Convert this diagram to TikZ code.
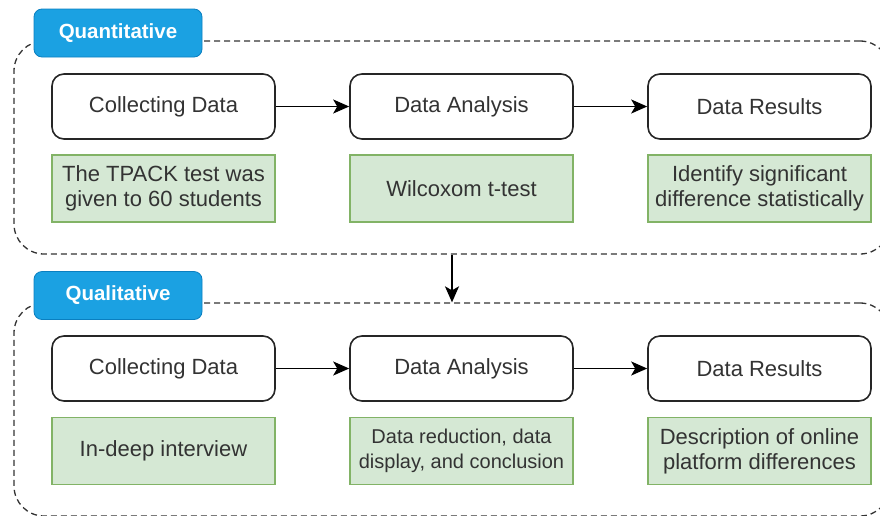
\documentclass[tikz,border=0pt]{standalone}
\usepackage{fontspec}
\setmainfont{Liberation Sans}
\usepackage{tikz}
\usetikzlibrary{shapes,arrows.meta,positioning}
\definecolor{boxgreen}{HTML}{D5E8D4}
\definecolor{boxgreenline}{HTML}{82B366}
\definecolor{tagblue}{HTML}{1BA1E2}
\definecolor{tagblueline}{HTML}{0A7FC0}
\definecolor{txtgray}{HTML}{333333}

\begin{document}
\begin{tikzpicture}
  [
    x=1pt, y=-1pt,
    Frame/.style={rectangle, draw=black!80, dash pattern=on 6pt off 4pt, line width=1.3pt, rounded corners=30pt, minimum width=876pt, minimum height=213pt},
    Tag/.style={rectangle, draw=tagblueline, fill=tagblue, rounded corners=8pt, line width=0.8pt, minimum width=168pt, minimum height=48pt, text=white, font=\fontsize{20.5}{24}\selectfont\bfseries},
    Plain/.style={rectangle, draw=black!85, fill=white, rounded corners=12pt, line width=1.6pt, minimum width=223pt, minimum height=65pt, text=txtgray, font=\fontsize{22}{25}\selectfont},
    Green/.style={rectangle, draw=boxgreenline, fill=boxgreen, line width=1.3pt, minimum width=223pt, minimum height=67pt, text=txtgray, align=center, font=\fontsize{22}{25}\selectfont},
    Link/.style={-{Stealth[length=16pt,width=14pt,inset=4pt]}, draw=black, line width=1.8pt}
  ]
  \useasboundingbox (0,0) rectangle (880,515);
  \clip (0,0) rectangle (880,515);
  % Frames
  \node[Frame] (quantframe) at(452, 147.5) {};
  \node[Frame] (qualframe) at(452, 409.5) {};
  \node[Tag] (quanttag) at(118, 33) {Quantitative};
  \node[Tag] (qualtag) at(118, 295.5) {Qualitative};
  % Nodes
  \node[Plain] (collect1) at(163.5, 106.5) {Collecting Data};
  \node[Plain] (analysis1) at(461.5, 106.5) {Data Analysis};
  \node[Plain] (results1) at(759.5, 106.5) {Data Results};
  \node[Green] (test) at(163.5, 188.5) {The TPACK test was\\given to 60 students};
  \node[Green] (wilcox) at(461.5, 188.5) {Wilcoxom t-test};
  \node[Green] (signif) at(759.5, 188.5) {Identify significant\\difference statistically};
  \node[Plain] (collect2) at(163.5, 368.5) {Collecting Data};
  \node[Plain] (analysis2) at(461.5, 368.5) {Data Analysis};
  \node[Plain] (results2) at(759.5, 368.5) {Data Results};
  \node[Green] (interview) at(163.5, 451) {In-deep interview};
  \node[Green, font=\fontsize{20}{25}\selectfont] (reduction) at(461.5, 451) {Data reduction, data\\display, and conclusion};
  \node[Green] (platform) at(759.5, 451) {Description of online\\platform differences};
  % Lines
  \path [Link] (collect1) -- (analysis1);
  \path [Link] (analysis1) -- (results1);
  \path [Link] (collect2) -- (analysis2);
  \path [Link] (analysis2) -- (results2);
  \path [Link] (quantframe.south) -- (qualframe.north);
\end{tikzpicture}
\end{document}
